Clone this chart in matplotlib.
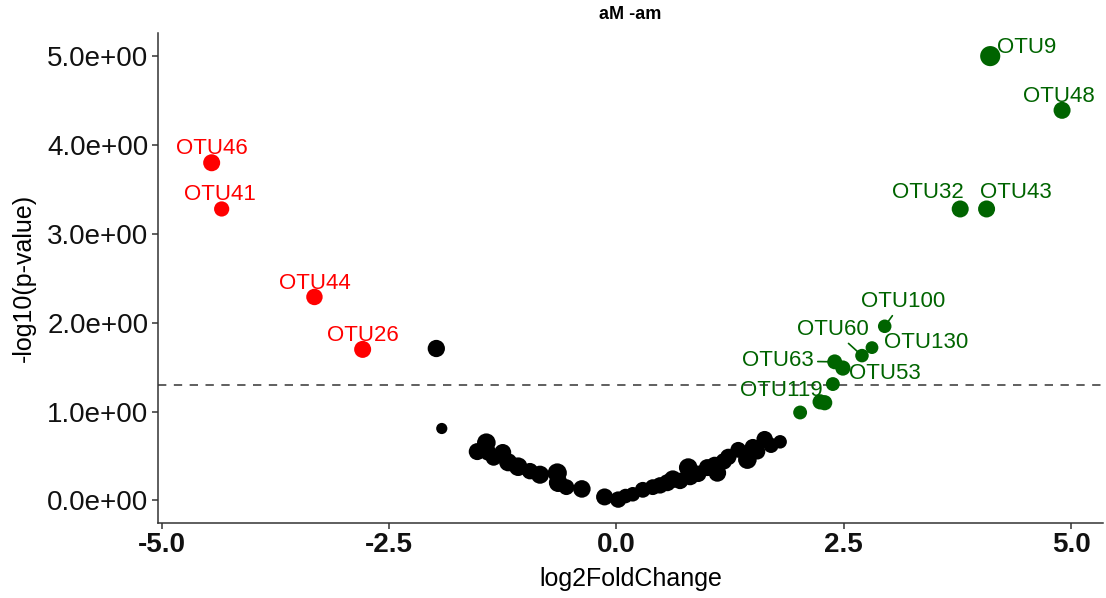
#!/usr/bin/env python3
'''
Volcano plot of differential OTU abundance, aM vs am
'''

import numpy
import matplotlib
matplotlib.use("Agg")
import matplotlib.pyplot as plt

plt.rcParams['font.family'] = ['Liberation Sans', 'DejaVu Sans']

# significant, labelled OTUs
otu_names = ["OTU46", "OTU41", "OTU44", "OTU26",
             "OTU9", "OTU48", "OTU32", "OTU43",
             "OTU100", "OTU130", "OTU60", "OTU63", "OTU53", "OTU119"]
otu_lfc = [-4.45, -4.34, -3.32, -2.79,
           4.11, 4.90, 3.78, 4.07,
           2.95, 2.81, 2.70, 2.40, 2.49, 2.38]
otu_logp = [3.80, 3.28, 2.29, 1.70,
            5.00, 4.39, 3.28, 3.28,
            1.96, 1.72, 1.63, 1.56, 1.49, 1.31]
otu_mean = [150, 120, 140, 150,
            210, 150, 150, 150,
            95, 85, 95, 115, 120, 100]

# remaining OTUs (unlabelled)
rest_lfc = [2.24, 2.29, 2.02,
            -1.98, -1.92, -1.53, -1.43, -1.41, -1.35, -1.25, -1.19, -1.08,
            -0.95, -0.84, -0.65, -0.64, -0.55, -0.38, -0.13, 0.02, 0.10,
            0.18, 0.29, 0.40, 0.48, 0.56, 0.62, 0.70, 0.79, 0.81, 0.90,
            1.00, 1.08, 1.11, 1.18, 1.23, 1.34, 1.44, 1.50, 1.55, 1.63,
            1.70, 1.80]
rest_logp = [1.11, 1.10, 0.99,
             1.71, 0.81, 0.55, 0.65, 0.54, 0.48, 0.54, 0.43, 0.38,
             0.33, 0.29, 0.31, 0.20, 0.15, 0.13, 0.04, 0.01, 0.05,
             0.07, 0.12, 0.15, 0.17, 0.20, 0.24, 0.22, 0.37, 0.27, 0.30,
             0.37, 0.40, 0.31, 0.44, 0.49, 0.57, 0.46, 0.60, 0.55, 0.69,
             0.62, 0.66]
rest_mean = [120, 120, 100,
             155, 65, 150, 180, 140, 130, 150, 170, 180,
             140, 170, 190, 180, 130, 160, 150, 140, 110,
             110, 130, 130, 140, 150, 160, 140, 180, 160, 140,
             150, 140, 160, 140, 140, 130, 180, 140, 130, 140,
             120, 95]

# label offsets (points) chosen to keep text off the markers
offsets = {
    "OTU46": (0, 10), "OTU41": (-1.5, 10.5), "OTU44": (0, 9.5),
    "OTU26": (0, 9.7), "OTU9": (26, 6), "OTU48": (-2, 9.7),
    "OTU32": (-23, 11.5), "OTU43": (21, 11.5), "OTU100": (13, 18),
    "OTU130": (39, 3.5), "OTU60": (-21, 19), "OTU63": (-41, 0.7),
    "OTU53": (30, -3.6), "OTU119": (-37, -4.3),
}
linked = {"OTU100", "OTU60", "OTU63"}

lfc_cut = 2.0
p_cut = 0.05


def colour_of(lfc):
    if lfc > lfc_cut:
        return "#006400"
    if lfc < -lfc_cut:
        return "#FF0000"
    return "#000000"


def marker_area(mean):
    return numpy.asarray(mean, dtype=float)


fig = plt.figure(figsize=(11.06, 5.98), dpi=100)
ax = fig.add_axes([158/1106, 75.3/598, 945/1106, 489.7/598])

all_lfc = rest_lfc + otu_lfc
all_logp = rest_logp + otu_logp
all_mean = rest_mean + otu_mean
ax.scatter(all_lfc, all_logp, s=marker_area(all_mean),
           c=[colour_of(v) for v in all_lfc], linewidths=0, zorder=3)

ax.axhline(-numpy.log10(p_cut), color="#444444", lw=1.2,
           ls=(0, (5, 4.5)), zorder=2)

for name, x, y in zip(otu_names, otu_lfc, otu_logp):
    col = colour_of(x)
    kw = {}
    if name in linked:
        kw["arrowprops"] = dict(arrowstyle="-", color=col, lw=1.2,
                                shrinkA=1, shrinkB=4.5)
    ax.annotate(name, (x, y), xytext=offsets[name],
                textcoords="offset points", ha="center", va="center",
                color=col, fontsize=16, zorder=4, **kw)

ax.set_xlim(-5.04, 5.35)
ax.set_ylim(-0.25, 5.26)
ax.set_xticks([-5.0, -2.5, 0.0, 2.5, 5.0])
ax.set_xticklabels(["%.1f" % t for t in [-5.0, -2.5, 0.0, 2.5, 5.0]],
                   fontweight="bold", fontsize=20)
yt = [0, 1, 2, 3, 4, 5]
ax.set_yticks(yt)
ax.set_yticklabels(["%.1e" % t for t in yt], fontsize=20)

for side in ["top", "right"]:
    ax.spines[side].set_visible(False)
for side in ["left", "bottom"]:
    ax.spines[side].set_color("#333333")
    ax.spines[side].set_linewidth(1.1)
ax.tick_params(colors="#333333", width=1.1, length=4, labelcolor="#111111",
               pad=3)

ax.set_xlabel("log2FoldChange", fontsize=18, labelpad=6)
ax.set_ylabel("-log10(p-value)", fontsize=18, labelpad=8)
ax.set_title("aM -am", fontweight="bold", fontsize=13, pad=10)

plt.savefig("out.png", dpi=100)
